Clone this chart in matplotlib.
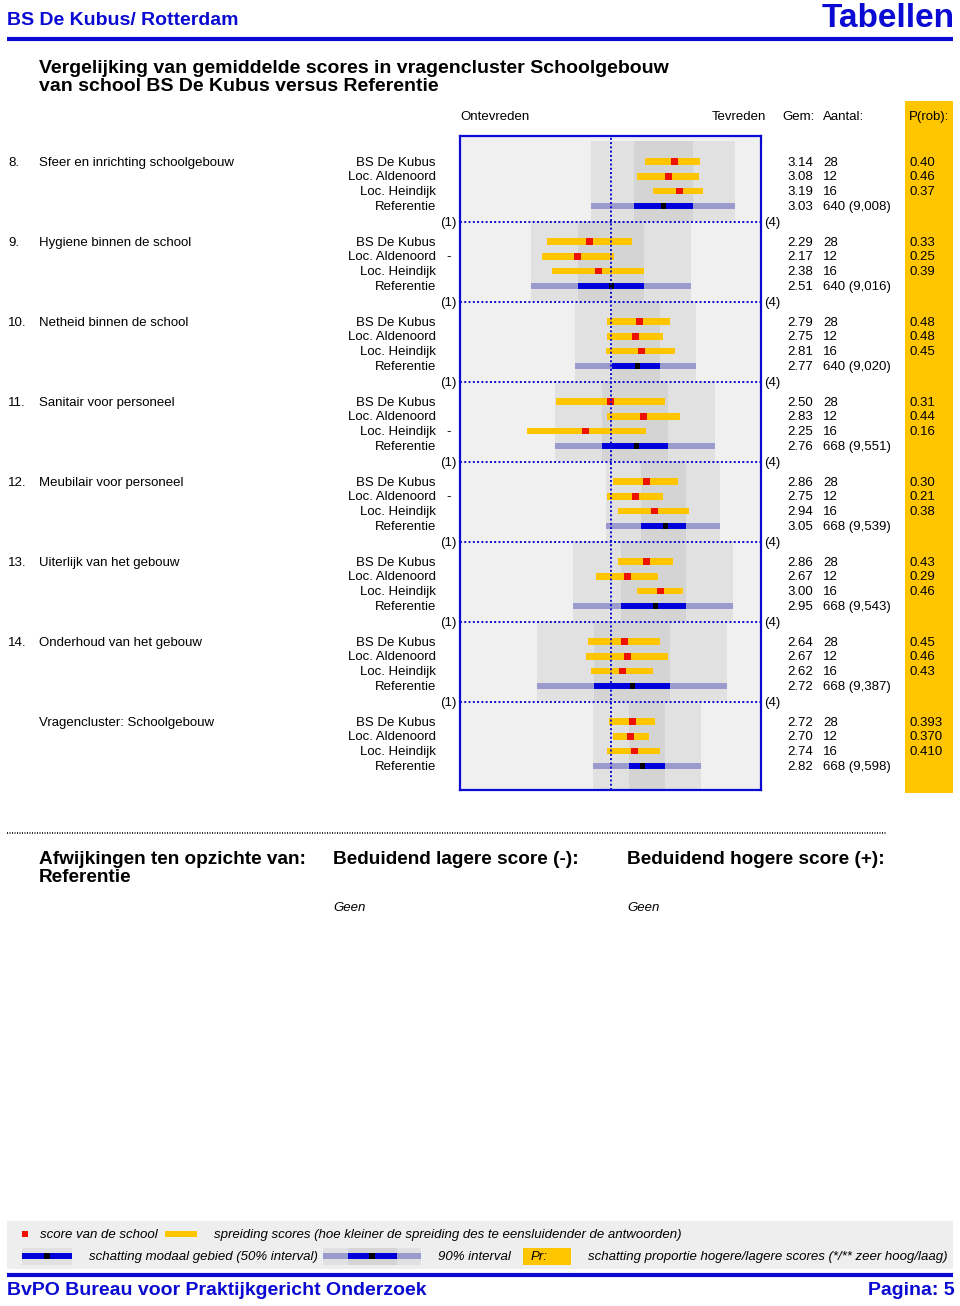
import matplotlib
matplotlib.use('Agg')
import matplotlib.pyplot as plt

plt.rcParams['font.family'] = ['Liberation Sans', 'DejaVu Sans']

# ---- data ----
items = ['Sfeer en inrichting schoolgebouw', 'Hygiene binnen de school',
         'Netheid binnen de school', 'Sanitair voor personeel',
         'Meubilair voor personeel', 'Uiterlijk van het gebouw',
         'Onderhoud van het gebouw', 'Vragencluster: Schoolgebouw']
item_nrs = ['8.', '9.', '10.', '11.', '12.', '13.', '14.', '']
units = ['BS De Kubus', 'Loc. Aldenoord', 'Loc. Heindijk', 'Referentie']

gem = [[3.14, 3.08, 3.19, 3.03],
       [2.29, 2.17, 2.38, 2.51],
       [2.79, 2.75, 2.81, 2.77],
       [2.50, 2.83, 2.25, 2.76],
       [2.86, 2.75, 2.94, 3.05],
       [2.86, 2.67, 3.00, 2.95],
       [2.64, 2.67, 2.62, 2.72],
       [2.72, 2.70, 2.74, 2.82]]
aantal = [['28', '12', '16', '640 (9,008)'],
          ['28', '12', '16', '640 (9,016)'],
          ['28', '12', '16', '640 (9,020)'],
          ['28', '12', '16', '668 (9,551)'],
          ['28', '12', '16', '668 (9,539)'],
          ['28', '12', '16', '668 (9,543)'],
          ['28', '12', '16', '668 (9,387)'],
          ['28', '12', '16', '668 (9,598)']]
prob = [['0.40', '0.46', '0.37'],
        ['0.33', '0.25', '0.39'],
        ['0.48', '0.48', '0.45'],
        ['0.31', '0.44', '0.16'],
        ['0.30', '0.21', '0.38'],
        ['0.43', '0.29', '0.46'],
        ['0.45', '0.46', '0.43'],
        ['0.393', '0.370', '0.410']]
signif = [['', '', ''], ['', '-', ''], ['', '', ''], ['', '', '-'],
          ['', '-', ''], ['', '', ''], ['', '', ''], ['', '', '']]

# spreiding (low, high) per school row
spread = [[(2.84, 3.39), (2.76, 3.38), (2.92, 3.42)],
          [(1.87, 2.71), (1.82, 2.53), (1.92, 2.83)],
          [(2.47, 3.09), (2.47, 3.02), (2.46, 3.14)],
          [(1.96, 3.04), (2.47, 3.19), (1.67, 2.85)],
          [(2.52, 3.17), (2.47, 3.02), (2.57, 3.28)],
          [(2.57, 3.12), (2.36, 2.97), (2.76, 3.22)],
          [(2.28, 2.99), (2.26, 3.07), (2.31, 2.92)],
          [(2.49, 2.94), (2.52, 2.88), (2.47, 2.99)]]
# referentie: 90% interval and 50% interval
ref90 = [(2.31, 3.74), (1.71, 3.30), (2.15, 3.35), (1.95, 3.54),
         (2.46, 3.59), (2.13, 3.72), (1.77, 3.66), (2.33, 3.40)]
ref50 = [(2.73, 3.32), (2.18, 2.83), (2.51, 2.99), (2.42, 3.07),
         (2.80, 3.25), (2.60, 3.25), (2.34, 3.09), (2.68, 3.04)]

# ---- colours ----
BLUE = '#0a0ad2'
YELLOW = '#ffc600'
RED = '#ee1100'
LBLUE = '#9a9acc'
DBLUE = '#0000dd'
BG = '#f0f0f0'
B90 = '#e1e1e1'
B50 = '#d4d4d4'

fig = plt.figure(figsize=(9.6, 13.06), dpi=100)

# page overlay in pixel coordinates
pg = fig.add_axes([0, 0, 1, 1])
pg.set_xlim(0, 960)
pg.set_ylim(1306, 0)
pg.axis('off')

fs = 9.5
TDY = 1.2  # small downward nudge for centred text


def txt(x, y, s, **kw):
    kw.setdefault('fontsize', fs)
    kw.setdefault('va', 'center')
    pg.text(x, y + TDY, s, **kw)


# header
pg.text(7, 25, 'BS De Kubus/ Rotterdam', color=BLUE, fontsize=14, fontweight='bold', va='baseline')
pg.text(955, 27, 'Tabellen', color=BLUE, fontsize=24, fontweight='bold', va='baseline', ha='right')
pg.plot([7, 953], [38.5, 38.5], color=BLUE, lw=3, solid_capstyle='butt')

txt(39, 67, 'Vergelijking van gemiddelde scores in vragencluster Schoolgebouw',
    fontsize=14, fontweight='bold')
txt(39, 85, 'van school BS De Kubus versus Referentie', fontsize=14, fontweight='bold')

# P(rob) column band
pg.fill_between([905, 953], 101, 793, color=YELLOW, lw=0)

txt(460, 116, 'Ontevreden')
txt(766, 116, 'Tevreden', ha='right')
txt(782, 116, 'Gem:')
txt(823, 116, 'Aantal:')
txt(909, 116, 'P(rob):')

# chart axes, y in page pixels
ax = fig.add_axes([460 / 960, 1 - 790 / 1306, 301 / 960, 654 / 1306])
ax.set_xlim(1, 4)
ax.set_ylim(790, 136)
ax.set_facecolor(BG)
for s in ax.spines.values():
    s.set_color(BLUE)
    s.set_linewidth(1.6)
ax.set_xticks([])
ax.set_yticks([])

row_y0 = 161.5
row_dy = 14.8
grp_dy = 80
bh = 6.6
sq = 0.066

for i in range(len(items)):
    top = 141 + grp_dy * i
    bot = 221 + grp_dy * i if i < len(items) - 1 else 790
    ax.fill_between(ref90[i], top, bot, color=B90, lw=0, zorder=1)
    ax.fill_between(ref50[i], top, bot, color=B50, lw=0, zorder=1)

    ys = [row_y0 + grp_dy * i + row_dy * r for r in range(4)]
    # school rows
    for r in range(3):
        lo, hi = spread[i][r]
        ax.barh(ys[r], hi - lo, left=lo, height=bh, color=YELLOW, zorder=3)
        ax.barh(ys[r], sq, left=gem[i][r] - sq / 2, height=bh, color=RED, zorder=4)
    # referentie
    ax.barh(ys[3], ref90[i][1] - ref90[i][0], left=ref90[i][0], height=bh, color=LBLUE, zorder=3)
    ax.barh(ys[3], ref50[i][1] - ref50[i][0], left=ref50[i][0], height=bh, color=DBLUE, zorder=4)
    ax.barh(ys[3], sq * 0.85, left=gem[i][3] - sq * 0.85 / 2, height=bh, color='black', zorder=5)

    # texts
    txt(8, ys[0], item_nrs[i])
    txt(39, ys[0], items[i])
    for r in range(4):
        txt(436, ys[r], units[r], ha='right')
        txt(787, ys[r], '%.2f' % gem[i][r])
        txt(823, ys[r], aantal[i][r])
    for r in range(3):
        txt(909, ys[r], prob[i][r])
        if signif[i][r]:
            txt(449, ys[r], signif[i][r], ha='center')

    if i < len(items) - 1:
        yl = 222 + grp_dy * i
        ax.plot([1, 4], [yl, yl], color=BLUE, lw=1.4, ls=(0, (1, 1.2)), zorder=6)
        txt(448, yl, '(1)', ha='center')
        txt(772, yl, '(4)', ha='center')

ax.axvline(2.5, color=BLUE, lw=1.4, ls=(0, (1, 1.2)), zorder=6)

# deviations section
pg.plot([7, 887], [833, 833], color='black', lw=1.2, ls=(0, (0.6, 0.9)))
txt(39, 858, 'Afwijkingen ten opzichte van:', fontsize=13.7, fontweight='bold')
txt(39, 876, 'Referentie', fontsize=13.7, fontweight='bold')
txt(333, 858, 'Beduidend lagere score (-):', fontsize=13.7, fontweight='bold')
txt(627, 858, 'Beduidend hogere score (+):', fontsize=13.7, fontweight='bold')
txt(333, 907, 'Geen', style='italic')
txt(627, 907, 'Geen', style='italic')

# legend
pg.fill_between([7, 953], 1221, 1269, color='#eeeeee', lw=0)
pg.fill_between([22, 28], 1231, 1237, color=RED, lw=0)
txt(40, 1234, 'score van de school', style='italic')
pg.fill_between([165, 197], 1231, 1237, color=YELLOW, lw=0)
txt(214, 1234, 'spreiding scores (hoe kleiner de spreiding des te eensluidender de antwoorden)',
    style='italic')

pg.fill_between([22, 72], 1248, 1265, color=B90, lw=0)
pg.fill_between([22, 72], 1253, 1259, color=DBLUE, lw=0)
pg.fill_between([44, 50], 1253, 1259, color='black', lw=0)
txt(89, 1256, 'schatting modaal gebied (50% interval)', style='italic')

pg.fill_between([323, 421], 1248, 1265, color=B90, lw=0)
pg.fill_between([348, 397], 1248, 1265, color=B50, lw=0)
pg.fill_between([323, 421], 1253, 1259, color=LBLUE, lw=0)
pg.fill_between([348, 397], 1253, 1259, color=DBLUE, lw=0)
pg.fill_between([369, 375], 1253, 1259, color='black', lw=0)
txt(438, 1256, '90% interval', style='italic')

pg.fill_between([523, 571], 1248, 1265, color=YELLOW, lw=0)
txt(531, 1256, 'Pr:', style='italic')
txt(588, 1256, 'schatting proportie hogere/lagere scores (*/** zeer hoog/laag)', style='italic')

pg.plot([7, 953], [1275, 1275], color=BLUE, lw=3, solid_capstyle='butt')
pg.text(7, 1295, 'BvPO Bureau voor Praktijkgericht Onderzoek', color=BLUE, fontsize=14,
        fontweight='bold', va='baseline')
pg.text(955, 1295, 'Pagina: 5', color=BLUE, fontsize=14, fontweight='bold', va='baseline', ha='right')

fig.savefig('out.png', dpi=100)
